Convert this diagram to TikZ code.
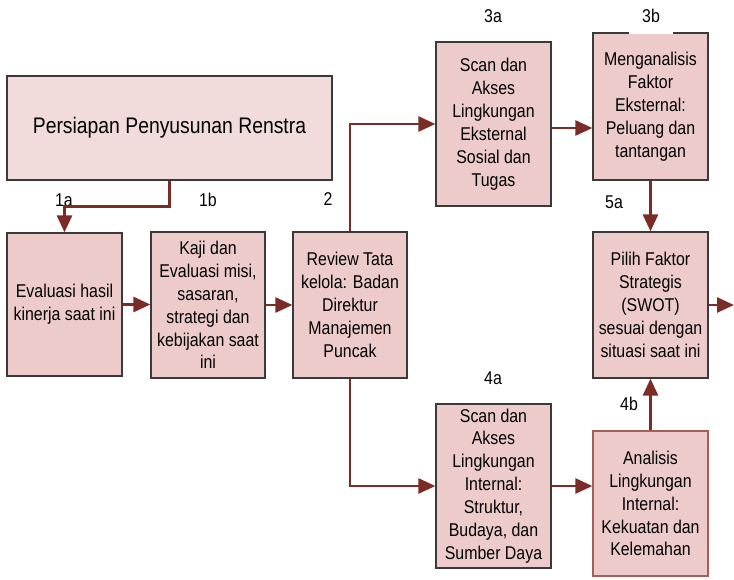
\documentclass[tikz,border=0pt]{standalone}
\usepackage{fontspec}
\setmainfont{Liberation Sans}[FakeStretch=0.86]
\usetikzlibrary{arrows.meta}
\definecolor{boxfill}{HTML}{EDCBCA}
\definecolor{titlefill}{HTML}{F2DCDB}
\definecolor{flowred}{HTML}{7B2C26}
\definecolor{boxline}{HTML}{3A3A3A}
\definecolor{redline}{HTML}{A65E58}
\begin{document}
\begin{tikzpicture}[x=1pt,y=-1pt,
  stepbox/.style={draw=boxline,line width=1.2pt,fill=boxfill,inner sep=0pt,
    align=center,font=\fontsize{18.5}{22.9}\selectfont},
  tag/.style={inner sep=1pt,font=\fontsize{18.5}{21}\selectfont},
  flow/.style={draw=flowred,line width=2.6pt,-{Triangle[length=17pt,width=15pt]}}]
\useasboundingbox (0,0) rectangle (734,579);

% main boxes
\node[stepbox,fill=titlefill,minimum width=325pt,minimum height=104pt,
  font=\fontsize{22.5}{26}\selectfont] (title) at (169.5,128) {Persiapan Penyusunan Renstra};
\node[stepbox,minimum width=115pt,minimum height=143pt] (b1a) at (64.5,304.5)
  {Evaluasi hasil\\kinerja saat ini};
\node[stepbox,minimum width=114pt,minimum height=146pt] (b1b) at (208,305)
  {Kaji dan\\Evaluasi misi,\\sasaran,\\strategi dan\\kebijakan saat\\ini};
\node[stepbox,minimum width=114pt,minimum height=146pt] (b2) at (350,305)
  {Review Tata\\kelola: Badan\\Direktur\\Manajemen\\Puncak};
\node[stepbox,minimum width=115pt,minimum height=164pt] (b3a) at (493.5,124)
  {Scan dan\\Akses\\Lingkungan\\Eksternal\\Sosial dan\\Tugas};
\node[stepbox,minimum width=115pt,minimum height=147pt] (b3b) at (650.5,106.5)
  {Menganalisis\\Faktor\\Eksternal:\\Peluang dan\\tantangan};
\node[stepbox,minimum width=115pt,minimum height=146pt] (b5a) at (650.5,305)
  {Pilih Faktor\\Strategis\\(SWOT)\\sesuai dengan\\situasi saat ini};
\node[stepbox,minimum width=115pt,minimum height=164pt] (b4a) at (493.5,486)
  {Scan dan\\Akses\\Lingkungan\\Internal:\\Struktur,\\Budaya, dan\\Sumber Daya};
\node[stepbox,draw=redline,minimum width=115pt,minimum height=145pt] (b4b) at (650.5,503.5)
  {Analisis\\Lingkungan\\Internal:\\Kekuatan dan\\Kelemahan};

% step numbers
\node[tag] (t1a) at (64,200) {1a};
\node[tag] (t1b) at (208,200) {1b};
\node[tag] (t2) at (328,199) {2};
\node[tag] (t3a) at (493,16) {3a};
\node[tag,fill=white,minimum width=44pt,minimum height=37pt] (t3b) at (651,15.5) {3b};
\node[tag] (t5a) at (614,202) {5a};
\node[tag] (t4a) at (493,378) {4a};
\node[tag] (t4b) at (629,404) {4b};

% connectors
\draw[flow] (title.south) -- ++(0,26) -| (b1a.north);
\draw[flow] (b1a.east) -- (b1a.east -| b1b.west);
\draw[flow] (b1b.east) -- (b1b.east -| b2.west);
\draw[flow] (b2.north) |- (b3a.west);
\draw[flow] (b2.south) |- (b4a.west);
\draw[flow] (b3a.east |- 0,128) -- (b3b.west |- 0,128);
\draw[flow] (b3b.south) -- (b5a.north);
\draw[flow] (b4a.east) -- (b4a.east -| b4b.west);
\draw[flow] (b4b.north) -- (b5a.south);
\coordinate (out) at (734,305);
\draw[flow] (b5a.east |- out) -- (out);
\end{tikzpicture}
\end{document}
